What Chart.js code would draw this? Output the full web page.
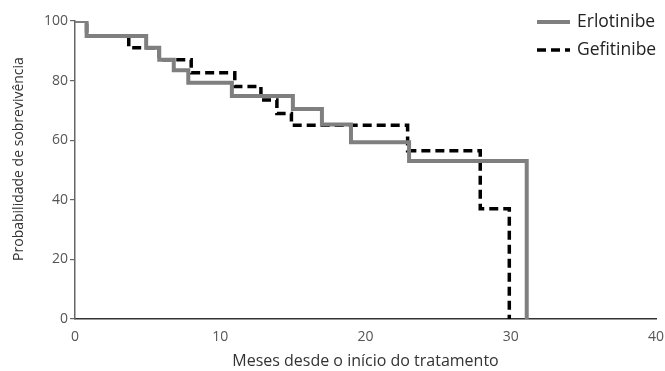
<!DOCTYPE html>
<html>
<head>
<meta charset="utf-8">
<script src="https://cdn.jsdelivr.net/npm/chart.js@4.4.1/dist/chart.umd.min.js"></script>
<style>
  html, body { margin: 0; padding: 0; background: #ffffff; }
  #wrap { width: 665px; height: 371px; }
</style>
</head>
<body>
<div id="wrap"><canvas id="km" width="665" height="371"></canvas></div>
<script>
// Kaplan-Meier survival curves (months, % surviving)
const seriesNames = ['Erlotinibe', 'Gefitinibe'];

const erlotinibTimes = [0, 0.8, 4.9, 5.8, 6.8, 7.8, 10.8, 15.0, 17.0, 19.0, 23.0, 31.1];
const erlotinibSurvival = [100, 95, 91, 87, 83.5, 79.3, 74.8, 70.5, 65.3, 59.3, 53, 0];

const gefitinibTimes = [0, 0.8, 3.7, 5.8, 8.0, 11.0, 12.8, 13.9, 14.9, 22.9, 27.9, 29.9];
const gefitinibSurvival = [100, 95, 91, 87, 82.6, 78, 73.5, 69, 65, 56.5, 37, 0];

const xTicks = [0, 10, 20, 30, 40];
const yTicks = [0, 20, 40, 60, 80, 100];

const xTitle = 'Meses desde o início do tratamento';
const yTitle = 'Probabilidade de sobrevivência';

const toPoints = (ts, vs) => ts.map((t, i) => ({ x: t, y: vs[i] }));

const FONT = "'Open Sans', 'Noto Sans', sans-serif";

// Vertical axis title and the top-right legend, drawn after the chart
const extras = {
  id: 'extras',
  afterDraw(chart) {
    const ctx = chart.ctx;
    ctx.save();

    // y-axis title
    ctx.save();
    ctx.translate(19, 159);
    ctx.rotate(-Math.PI / 2);
    ctx.font = "14px " + FONT;
    ctx.fillStyle = '#333333';
    ctx.textAlign = 'center';
    ctx.textBaseline = 'middle';
    ctx.fillText(yTitle, 0, 0);
    ctx.restore();

    // legend
    const x0 = 537, x1 = 570, tx = 577;
    const rows = [22, 50];
    ctx.font = "17.5px " + FONT;
    ctx.textBaseline = 'middle';
    ctx.textAlign = 'left';
    chart.data.datasets.forEach((ds, i) => {
      const y = rows[i];
      ctx.beginPath();
      ctx.strokeStyle = ds.borderColor;
      ctx.lineWidth = ds.borderWidth;
      ctx.setLineDash(ds.borderDash || []);
      ctx.moveTo(x0, y);
      ctx.lineTo(x1, y);
      ctx.stroke();
      ctx.setLineDash([]);
      ctx.fillStyle = '#222222';
      ctx.fillText(ds.label, tx, y);
    });
    ctx.restore();
  }
};

new Chart(document.getElementById('km'), {
  type: 'line',
  data: {
    datasets: [
      {
        label: seriesNames[0],
        data: toPoints(erlotinibTimes, erlotinibSurvival),
        stepped: true,
        borderColor: '#7f7f7f',
        borderWidth: 4,
        pointRadius: 0,
        fill: false
      },
      {
        label: seriesNames[1],
        data: toPoints(gefitinibTimes, gefitinibSurvival),
        stepped: true,
        borderColor: '#000000',
        borderWidth: 3.5,
        borderDash: [9, 5],
        pointRadius: 0,
        fill: false
      }
    ]
  },
  options: {
    responsive: false,
    animation: false,
    layout: { padding: { left: 0, right: 9, top: 21, bottom: 0 } },
    plugins: {
      legend: { display: false },
      tooltip: { enabled: false }
    },
    scales: {
      x: {
        type: 'linear',
        min: 0,
        max: 40,
        afterBuildTicks: (s) => { s.ticks = xTicks.map(v => ({ value: v })); },
        afterFit: (s) => { s.height = 52; s.paddingLeft = 0; s.paddingRight = 0; },
        grid: { display: false, drawTicks: false },
        border: { display: true, color: '#333333', width: 1.5 },
        ticks: {
          padding: 10,
          color: '#555555',
          font: { family: FONT, size: 14 },
          maxRotation: 0
        },
        title: {
          display: true,
          text: xTitle,
          color: '#333333',
          font: { family: FONT, size: 16 },
          padding: { top: 2, bottom: 0 }
        }
      },
      y: {
        min: 0,
        max: 100,
        afterBuildTicks: (s) => { s.ticks = yTicks.map(v => ({ value: v })); },
        afterFit: (s) => { s.width = 75; s.paddingTop = 0; s.paddingBottom = 0; },
        grid: {
          drawOnChartArea: false,
          drawTicks: true,
          tickLength: 5,
          color: '#666666',
          lineWidth: 1.2
        },
        border: { display: true, color: '#666666', width: 1.5 },
        ticks: {
          padding: 2,
          color: '#555555',
          font: { family: FONT, size: 14 }
        }
      }
    }
  },
  plugins: [extras]
});
</script>
</body>
</html>
